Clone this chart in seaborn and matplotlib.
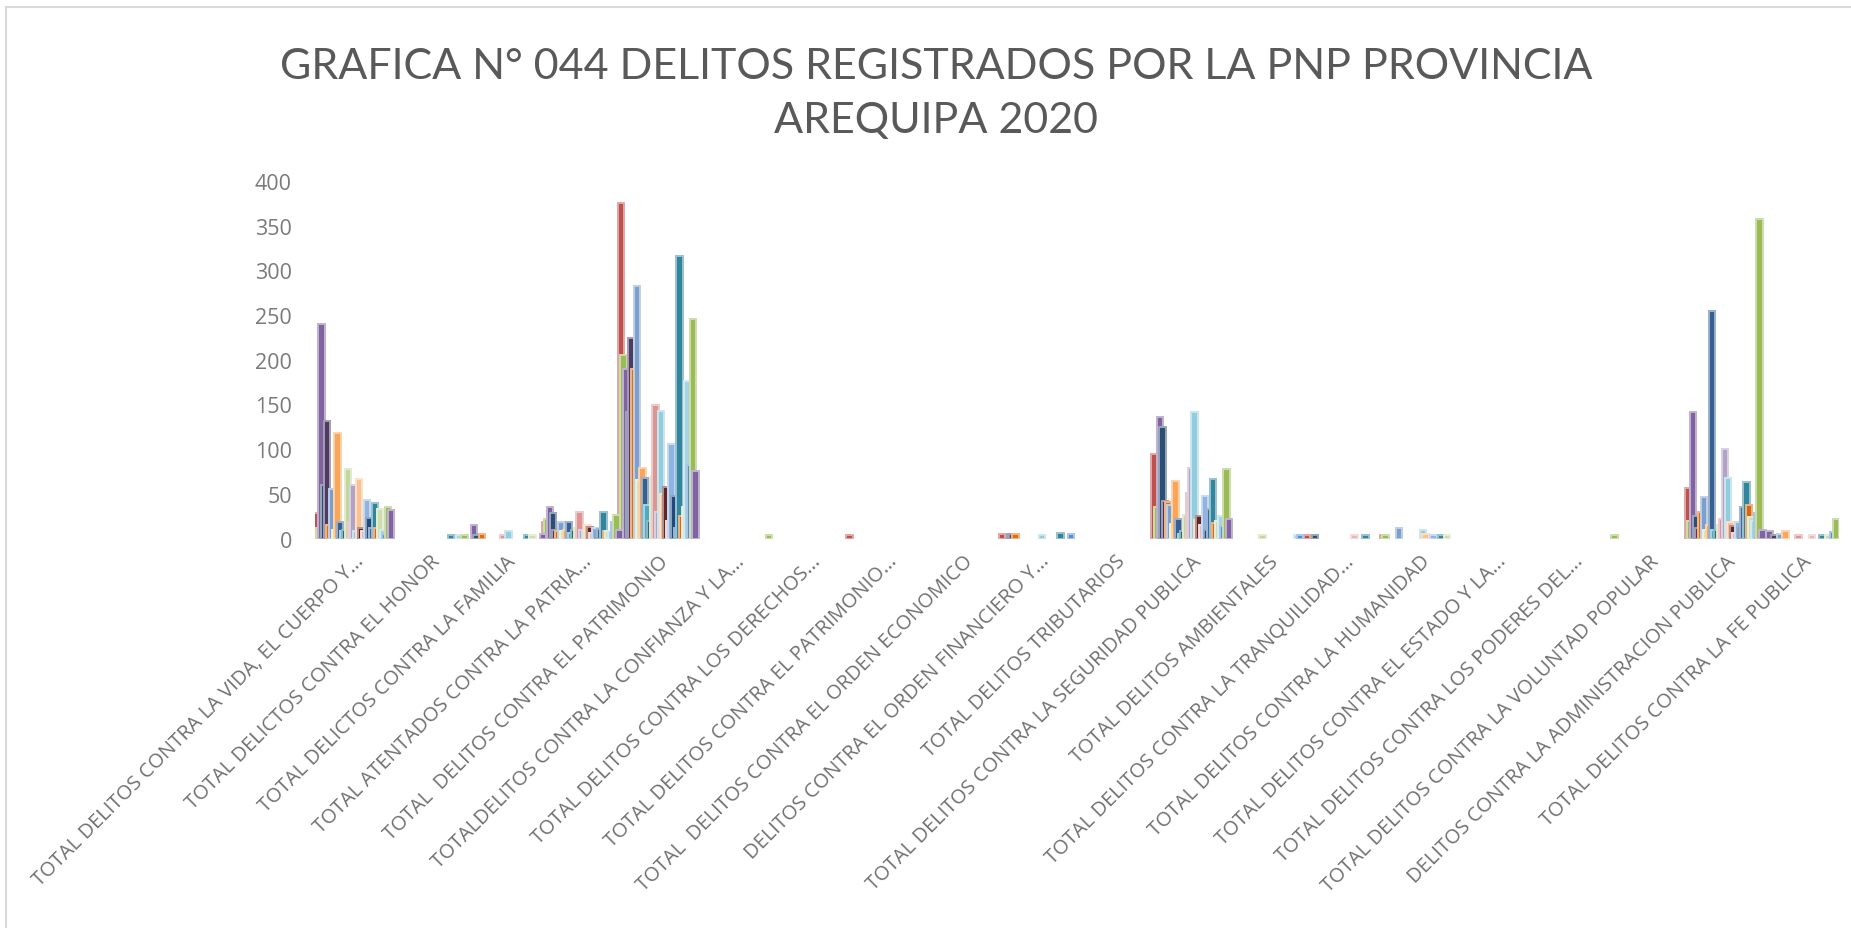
import numpy as np
import pandas as pd
import matplotlib
matplotlib.use("Agg")
import matplotlib.pyplot as plt
from matplotlib.lines import Line2D
from matplotlib.colors import to_rgb
import seaborn as sns

# Delitos (categorias del eje X)
categorias = [
    "TOTAL DELITOS CONTRA LA VIDA, EL CUERPO Y...",
    "TOTAL DELICTOS CONTRA EL HONOR",
    "TOTAL DELICTOS CONTRA LA FAMILIA",
    "TOTAL ATENTADOS CONTRA LA PATRIA...",
    "TOTAL  DELITOS CONTRA EL PATRIMONIO",
    "TOTALDELITOS CONTRA LA CONFIANZA Y LA...",
    "TOTAL DELITOS CONTRA LOS DERECHOS...",
    "TOTAL DELITOS CONTRA EL PATRIMONIO...",
    "TOTAL  DELITOS CONTRA EL ORDEN ECONOMICO",
    "DELITOS CONTRA EL ORDEN FINANCIERO Y...",
    "TOTAL DELITOS TRIBUTARIOS",
    "TOTAL DELITOS CONTRA LA SEGURIDAD PUBLICA",
    "TOTAL DELITOS AMBIENTALES",
    "TOTAL DELITOS CONTRA LA TRANQUILIDAD...",
    "TOTAL DELITOS CONTRA LA HUMANIDAD",
    "TOTAL DELITOS CONTRA EL ESTADO Y LA...",
    "TOTAL DELITOS CONTRA LOS PODERES DEL...",
    "TOTAL DELITOS CONTRA LA VOLUNTAD POPULAR",
    "DELITOS CONTRA LA ADMINISTRACION PUBLICA",
    "TOTAL DELITOS CONTRA LA FE PUBLICA",
]

# Distritos de la provincia (una serie por distrito)
distritos = [
    "Arequipa", "Alto Selva Alegre", "Cayma", "Cerro Colorado", "Characato",
    "Chiguata", "Jacobo Hunter", "La Joya", "Mariano Melgar", "Miraflores",
    "Mollebaya", "Paucarpata", "Pocsi", "Polobaya", "Quequeña", "Sabandia",
    "Sachaca", "San Juan de Siguas", "San Juan de Tarucani",
    "Santa Isabel de Siguas", "Santa Rita de Siguas", "Socabaya", "Tiabaya",
    "Uchumayo", "Vitor", "Yanahuara", "Yarabamba", "Yura",
    "Jose Luis Bustamante y Rivero",
]

colores = [
    "#C0504D", "#9BBB59", "#8064A2", "#2C4D75", "#4D3B62", "#E46C0A",
    "#7BA0CD", "#D7E4BD", "#F9A65A", "#376092", "#4BACC6", "#276A7C",
    "#C3D69B", "#D99694", "#B3A2C7", "#93CDDD", "#FAC090", "#632523",
    "#E6B9B8", "#8EB4E3", "#1F497D", "#3B6AA0", "#31859C", "#D8670F",
    "#CDDDAC", "#A5D5E2", "#558ED5", "#9BBB59", "#8064A2",
]

# Casos registrados por delito, en el orden de `distritos`
vida = [28, 12, 240, 60, 132, 15, 55, 10, 118, 18, 8, 10, 78, 18, 60, 8, 67, 12, 8, 43, 23, 12, 40, 12, 33, 10, 5, 35, 32]
honor = [0, 0, 0, 0, 0, 0, 0, 0, 0, 0, 0, 0, 0, 0, 0, 0, 0, 0, 0, 0, 0, 0, 4, 0, 0, 4, 0, 4, 0]
familia = [0, 0, 15, 4, 0, 5, 0, 0, 0, 0, 0, 0, 0, 4, 0, 8, 0, 0, 0, 0, 0, 0, 4, 0, 4, 0, 0, 0, 5]
patria = [19, 22, 35, 28, 10, 8, 18, 8, 10, 18, 6, 10, 12, 30, 10, 8, 15, 13, 6, 12, 8, 11, 30, 8, 8, 8, 18, 26, 10]
patrimonio = [375, 205, 190, 142, 224, 190, 282, 65, 79, 68, 37, 20, 69, 149, 30, 143, 50, 58, 20, 106, 48, 12, 316, 25, 35, 176, 82, 246, 76]
confianza = [0, 0, 0, 0, 0, 0, 0, 0, 0, 0, 0, 0, 0, 0, 0, 0, 0, 0, 0, 0, 0, 0, 0, 0, 0, 0, 0, 4, 0]
derechos = [0] * 29
patrimonio_cultural = [4, 0, 0, 0, 0, 0, 0, 0, 0, 0, 0, 0, 0, 0, 0, 0, 0, 0, 0, 0, 0, 0, 0, 0, 0, 0, 0, 0, 0]
orden_economico = [0] * 29
orden_financiero = [5, 0, 0, 5, 5, 5, 0, 0, 0, 0, 0, 0, 0, 0, 0, 4, 0, 0, 0, 0, 0, 0, 6, 0, 0, 0, 5, 0, 0]
tributarios = [0] * 29
seguridad = [94, 35, 136, 125, 42, 41, 38, 16, 64, 22, 5, 8, 26, 51, 79, 141, 21, 25, 15, 48, 10, 33, 67, 17, 20, 25, 14, 78, 22]
ambientales = [0, 0, 0, 0, 0, 0, 0, 0, 0, 0, 0, 0, 4, 0, 0, 0, 0, 0, 0, 0, 0, 0, 0, 0, 0, 4, 4, 0, 0]
tranquilidad = [4, 0, 0, 4, 0, 0, 0, 0, 0, 0, 0, 0, 0, 0, 0, 0, 0, 0, 4, 0, 0, 0, 4, 0, 0, 0, 0, 0, 0]
humanidad = [4, 4, 0, 0, 0, 0, 12, 0, 0, 0, 0, 0, 0, 0, 0, 9, 5, 0, 0, 4, 0, 0, 4, 0, 4, 0, 0, 0, 0]
estado = [0] * 29
poderes = [0] * 29
voluntad = [0, 4, 0, 0, 0, 0, 0, 0, 0, 0, 0, 0, 0, 0, 0, 0, 0, 0, 0, 0, 0, 0, 0, 0, 0, 0, 0, 0, 0]
administracion = [56, 20, 141, 25, 12, 30, 46, 10, 15, 255, 10, 10, 15, 22, 100, 68, 19, 14, 6, 19, 12, 35, 63, 38, 24, 20, 28, 357, 9]
fe_publica = [8, 0, 8, 0, 4, 0, 5, 0, 8, 0, 0, 0, 0, 4, 0, 0, 0, 0, 4, 0, 0, 0, 4, 0, 4, 0, 7, 22, 0]

valores = [vida, honor, familia, patria, patrimonio, confianza, derechos,
           patrimonio_cultural, orden_economico, orden_financiero, tributarios,
           seguridad, ambientales, tranquilidad, humanidad, estado, poderes,
           voluntad, administracion, fe_publica]

filas = []
for cat, vals in zip(categorias, valores):
    for dist, v in zip(distritos, vals):
        if v > 0:
            filas.append((cat, dist, v))
df = pd.DataFrame(filas, columns=["delito", "distrito", "casos"])

sns.set_theme(style="white")
plt.rcParams["font.family"] = ["Open Sans", "DejaVu Sans"]

W, H = 1851, 929
fig = plt.figure(figsize=(W / 100, H / 100), dpi=100)
ax = fig.add_axes([315.4 / W, 1 - 539.5 / H, 1524 / W, 357.5 / H])

n = len(distritos)
bar_w = 0.0853                       # ancho de cada barra (solapadas)
paso = (1.063 - bar_w) / (n - 1)     # separacion entre series

sns.barplot(data=df, x="delito", y="casos", hue="distrito",
            order=categorias, hue_order=distritos, palette=colores,
            width=paso * n, dodge=True, saturation=1, errorbar=None,
            legend=False, ax=ax)

for cont in ax.containers:
    for p in cont.patches:
        cx = p.get_x() + p.get_width() / 2
        p.set_x(cx - bar_w / 2)
        p.set_width(bar_w)
        fc = np.array(to_rgb(p.get_facecolor()))
        p.set_edgecolor(tuple(0.5 * fc + 0.5))
        p.set_linewidth(1.4)

ax.set_xlim(-0.5, len(categorias) - 0.5)
ax.set_ylim(0, 400)
ax.set_yticks(np.arange(0, 401, 50))
ax.set_xlabel("")
ax.set_ylabel("")
ax.tick_params(axis="y", length=0, pad=17, labelsize=15.5, labelcolor="#7A7A7A")
ax.tick_params(axis="x", length=0, pad=9)
ax.set_xticks(range(len(categorias)))
ax.set_xticklabels(categorias, rotation=45, ha="right", va="top",
                   rotation_mode="anchor", fontsize=14.5, color="#707070")
for s in ax.spines.values():
    s.set_visible(False)
ax.grid(False)

titulo_fuente = ["Lato", "DejaVu Sans"]
fig.text(936 / W, 1 - 67 / H, "GRAFICA N° 044 DELITOS REGISTRADOS POR LA PNP PROVINCIA",
         ha="center", va="center", fontsize=31, fontweight="normal",
         color="#595959", family=titulo_fuente)
fig.text(936 / W, 1 - 121 / H, "AREQUIPA 2020",
         ha="center", va="center", fontsize=31, fontweight="normal",
         color="#595959", family=titulo_fuente)

# Marco del area del grafico
fig.add_artist(Line2D([6 / W, 1], [1 - 8 / H, 1 - 8 / H], color="#D9D9D9", lw=1.5))
fig.add_artist(Line2D([6 / W, 6 / W], [0, 1 - 8 / H], color="#D9D9D9", lw=1.5))

fig.savefig("out.png", dpi=100)
